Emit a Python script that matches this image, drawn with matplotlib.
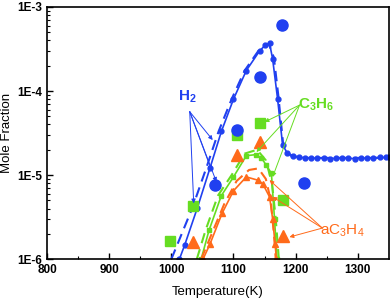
import matplotlib
matplotlib.use("Agg")
import matplotlib.pyplot as plt
from matplotlib.ticker import FixedLocator, LogLocator, NullFormatter, FixedFormatter

plt.rcParams["font.family"] = ["Liberation Sans", "DejaVu Sans"]
plt.rcParams["mathtext.fontset"] = "custom"
plt.rcParams["mathtext.rm"] = "Liberation Sans"
plt.rcParams["mathtext.bf"] = "Liberation Sans:bold"

BLUE = "#2040f0"
GREEN = "#66dd22"
ORANGE = "#ff6a1a"

# H2 experiment / simulation
h2_exp_T = [1071, 1106, 1142, 1178, 1214]
h2_exp = [7.6e-6, 3.4e-5, 1.48e-4, 6.1e-4, 8.1e-6]
h2_sim_T = [1013, 1021.6, 1042, 1062, 1080.5, 1100, 1120.6, 1142, 1151, 1158, 1163,
            1171, 1179, 1186, 1195, 1205, 1215, 1225, 1235, 1245, 1255, 1265, 1275,
            1285, 1295, 1305, 1315, 1325, 1335, 1345, 1350]
h2_sim = [1.0e-6, 1.48e-6, 4.1e-6, 1.2e-5, 3.3e-5, 8.0e-5, 1.75e-4, 3.0e-4, 3.5e-4,
          3.7e-4, 2.4e-4, 8.0e-5, 2.3e-5, 1.85e-5, 1.7e-5, 1.63e-5, 1.6e-5, 1.58e-5,
          1.6e-5, 1.58e-5, 1.57e-5, 1.58e-5, 1.6e-5, 1.58e-5, 1.57e-5, 1.58e-5,
          1.6e-5, 1.6e-5, 1.62e-5, 1.62e-5, 1.62e-5]
h2_dash_T = [1000, 1034, 1056, 1076, 1097, 1118, 1140, 1152, 1157, 1165, 1172, 1180,
             1192, 1210, 1350]
h2_dash = [1.0e-6, 4.1e-6, 1.2e-5, 3.3e-5, 8.0e-5, 1.75e-4, 3.0e-4, 3.5e-4, 3.6e-4,
           2.5e-4, 9.0e-5, 2.3e-5, 1.7e-5, 1.6e-5, 1.6e-5]

# C3H6
c3h6_exp_T = [998.6, 1035, 1105.6, 1142, 1179.6]
c3h6_exp = [1.66e-6, 4.3e-6, 3.0e-5, 4.2e-5, 5.1e-6]
c3h6_sim_T = [1048, 1060.6, 1080.5, 1100, 1120.6, 1136, 1145, 1153, 1161, 1166, 1170]
c3h6_sim = [1.0e-6, 2.2e-6, 5.7e-6, 9.5e-6, 1.7e-5, 1.75e-5, 1.6e-5, 1.3e-5, 1.05e-5,
            3.0e-6, 1.0e-6]
c3h6_dash_T = [1041, 1055, 1075, 1097, 1118, 1138, 1152, 1162, 1168, 1173]
c3h6_dash = [1.0e-6, 2.2e-6, 5.7e-6, 1.0e-5, 1.8e-5, 2.0e-5, 1.5e-5, 8.0e-6, 3.0e-6, 1.0e-6]

# aC3H4
ac3h4_exp_T = [1035, 1105.6, 1142, 1179.6]
ac3h4_exp = [1.6e-6, 1.73e-5, 2.5e-5, 1.87e-6]
ac3h4_sim_T = [1051, 1062, 1081.6, 1100, 1120.6, 1139, 1147, 1158, 1163, 1167, 1169]
ac3h4_sim = [1.0e-6, 1.5e-6, 3.5e-6, 6.5e-6, 9.5e-6, 8.7e-6, 7.9e-6, 5.5e-6, 3.0e-6,
             1.5e-6, 1.0e-6]
ac3h4_dash_T = [1048, 1065, 1085, 1105, 1125, 1140, 1152, 1160, 1165, 1168]
ac3h4_dash = [1.0e-6, 2.0e-6, 4.5e-6, 8.5e-6, 1.15e-5, 1.2e-5, 9.0e-6, 5.0e-6, 2.0e-6, 1.0e-6]

# annotation arrows: (origin, targets)
h2_arrow_from = (1029.6, 5.67e-5)
h2_arrow_to = [(1066.6, 2.61e-5), (1064.5, 1.15e-5), (1072.5, 8.3e-6), (1036, 4.6e-6)]
c3h6_arrow_from = (1206.3, 6.8e-5)
c3h6_arrow_to = [(1150, 4.28e-5), (1137, 1.88e-5), (1163, 9.5e-6)]
ac3h4_arrow_from = (1243, 2.34e-6)
ac3h4_arrow_to = [(1158, 8.7e-6), (1163, 5.5e-6), (1190, 1.83e-6)]

x_ticks = [800, 900, 1000, 1100, 1200, 1300]
y_ticks = [1e-6, 1e-5, 1e-4, 1e-3]
y_labels = ["1E-6", "1E-5", "1E-4", "1E-3"]

fig = plt.figure(figsize=(3.92, 3.02), dpi=100)
ax = fig.add_axes([0.120, 0.142, 0.872, 0.835])
ax.set_yscale("log")

# simulations
ax.plot(h2_dash_T, h2_dash, "--", color=BLUE, lw=1.5, dashes=(5, 3))
ax.plot(h2_sim_T, h2_sim, "-", color=BLUE, lw=1.2, marker="o", ms=3.5)
ax.plot(c3h6_dash_T, c3h6_dash, "--", color=GREEN, lw=1.5, dashes=(5, 3))
ax.plot(c3h6_sim_T, c3h6_sim, "-", color=GREEN, lw=1.2, marker="s", ms=3.5)
ax.plot(ac3h4_dash_T, ac3h4_dash, "--", color=ORANGE, lw=1.5, dashes=(5, 3))
ax.plot(ac3h4_sim_T, ac3h4_sim, "-", color=ORANGE, lw=1.2, marker="^", ms=4)

# experiments
ax.plot(c3h6_exp_T, c3h6_exp, "s", color=GREEN, ms=7, ls="none")
ax.plot(ac3h4_exp_T, ac3h4_exp, "^", color=ORANGE, ms=8, ls="none")
ax.plot(h2_exp_T, h2_exp, "o", color=BLUE, ms=8, ls="none")

# labels + arrows
for origin, targets, color in [(h2_arrow_from, h2_arrow_to, BLUE),
                               (c3h6_arrow_from, c3h6_arrow_to, GREEN),
                               (ac3h4_arrow_from, ac3h4_arrow_to, ORANGE)]:
    for t in targets:
        ax.annotate("", xy=t, xytext=origin,
                    arrowprops=dict(arrowstyle="-|>", color=color, lw=0.7,
                                    mutation_scale=6, shrinkA=0, shrinkB=0))

ax.text(1026.4, 8.5e-5, r"$\mathbf{H_2}$", color=BLUE, fontsize=11, ha="center", va="center")
ax.text(1233.6, 6.8e-5, r"$\mathbf{C_3H_6}$", color=GREEN, fontsize=11, ha="center", va="center")
ax.text(1275, 2.2e-6, r"$\mathrm{aC_3H_4}$", color=ORANGE, fontsize=11, ha="center", va="center")

ax.set_xlim(800, 1350)
ax.set_ylim(1e-6, 1e-3)
ax.xaxis.set_major_locator(FixedLocator(x_ticks))
ax.xaxis.set_minor_locator(FixedLocator([850, 950, 1050, 1150, 1250]))
ax.yaxis.set_major_locator(FixedLocator(y_ticks))
ax.yaxis.set_major_formatter(FixedFormatter(y_labels))
ax.yaxis.set_minor_locator(LogLocator(base=10, subs=range(2, 10)))
ax.yaxis.set_minor_formatter(NullFormatter())
ax.tick_params(which="major", direction="in", length=4, width=1, labelsize=8.5)
ax.tick_params(which="minor", direction="in", length=2.5, width=0.8)
for lab in ax.get_xticklabels() + ax.get_yticklabels():
    lab.set_fontweight("bold")
for sp in ax.spines.values():
    sp.set_linewidth(1.2)

ax.set_xlabel("Temperature(K)", fontsize=9.5, labelpad=7)
ax.set_ylabel("Mole Fraction", fontsize=9.5, labelpad=3)

fig.savefig("out.png", dpi=100)
